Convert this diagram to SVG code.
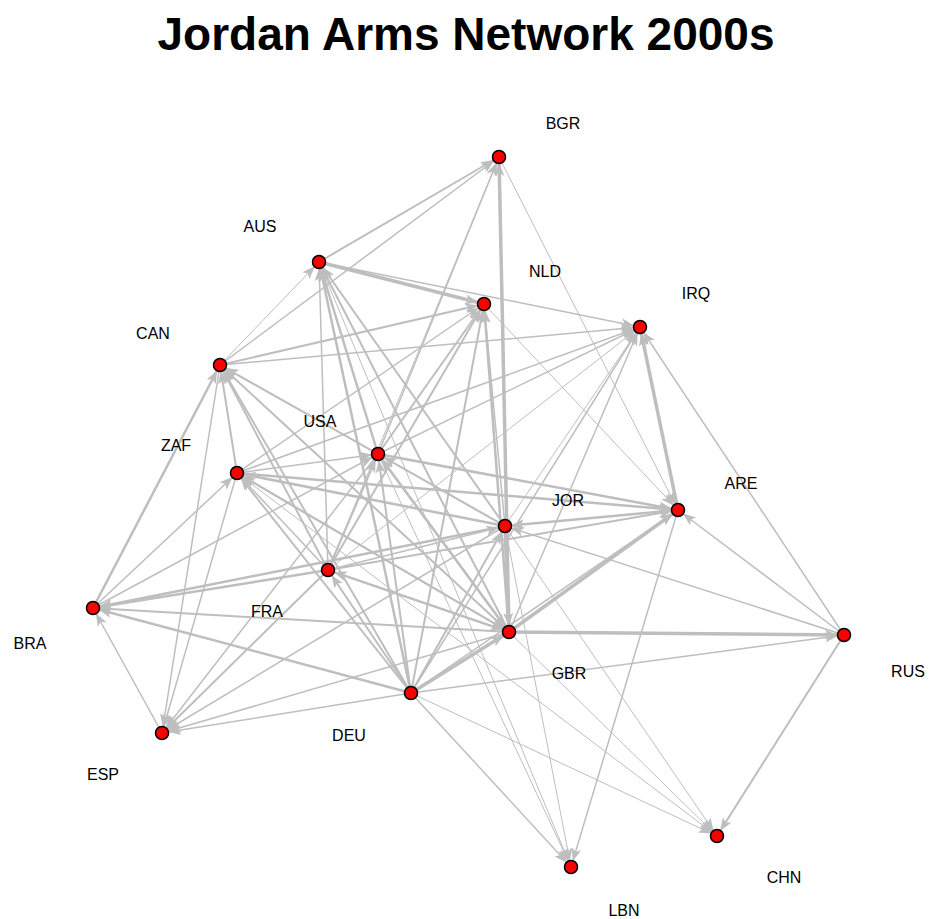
<svg xmlns="http://www.w3.org/2000/svg" width="931" height="919" viewBox="0 0 931 919">
<style>
.e{stroke:#bebebe;fill:none;marker-end:url(#ar)}
.a{stroke-width:1}
.b{stroke-width:1.5}
.c{stroke-width:2}
.d{stroke-width:2.5}
.f{stroke-width:3.5}
.n{fill:#ff0000;stroke:#000;stroke-width:1.5}
.l{font-family:"Liberation Sans",Arial,sans-serif;font-size:16px;fill:#000;text-anchor:middle}
.t{font-family:"Liberation Sans",Arial,sans-serif;font-size:46px;font-weight:bold;fill:#000;text-anchor:middle}
</style>
<defs>
<marker id="ar" markerUnits="userSpaceOnUse" markerWidth="14" markerHeight="10" refX="19" refY="5" orient="auto" overflow="visible">
<path d="M0,0 L13,5 L0,10 L3,5 z" fill="#bebebe"/>
</marker>
</defs>
<rect width="931" height="919" fill="#fff"/>
<text class="t" x="466" y="50">Jordan Arms Network 2000s</text>
<g id="edges">
<line class="e c" x1="319" y1="262" x2="499" y2="157"/>
<line class="e b" x1="220" y1="365" x2="499" y2="157"/>
<line class="e b" x1="378" y1="454" x2="499" y2="157"/>
<line class="e a" x1="328" y1="570" x2="499" y2="157"/>
<line class="e f" x1="509" y1="632" x2="499" y2="157"/>
<line class="e a" x1="499" y1="157" x2="678" y2="510"/>
<line class="e a" x1="220" y1="365" x2="319" y2="262"/>
<line class="e d" x1="378" y1="454" x2="319" y2="262"/>
<line class="e d" x1="411" y1="693" x2="319" y2="262"/>
<line class="e b" x1="328" y1="570" x2="319" y2="262"/>
<line class="e c" x1="509" y1="632" x2="319" y2="262"/>
<line class="e c" x1="505" y1="526" x2="319" y2="262"/>
<line class="e f" x1="319" y1="262" x2="484" y2="304"/>
<line class="e b" x1="319" y1="262" x2="640" y2="327"/>
<line class="e c" x1="220" y1="365" x2="484" y2="304"/>
<line class="e c" x1="378" y1="454" x2="484" y2="304"/>
<line class="e c" x1="328" y1="570" x2="484" y2="304"/>
<line class="e c" x1="411" y1="693" x2="484" y2="304"/>
<line class="e d" x1="509" y1="632" x2="484" y2="304"/>
<line class="e b" x1="237" y1="473" x2="484" y2="304"/>
<line class="e b" x1="505" y1="526" x2="484" y2="304"/>
<line class="e a" x1="484" y1="304" x2="678" y2="510"/>
<line class="e f" x1="678" y1="510" x2="640" y2="327"/>
<line class="e b" x1="844" y1="635" x2="640" y2="327"/>
<line class="e b" x1="220" y1="365" x2="640" y2="327"/>
<line class="e b" x1="378" y1="454" x2="640" y2="327"/>
<line class="e b" x1="237" y1="473" x2="640" y2="327"/>
<line class="e a" x1="328" y1="570" x2="640" y2="327"/>
<line class="e b" x1="411" y1="693" x2="640" y2="327"/>
<line class="e b" x1="509" y1="632" x2="640" y2="327"/>
<line class="e a" x1="505" y1="526" x2="640" y2="327"/>
<line class="e c" x1="237" y1="473" x2="220" y2="365"/>
<line class="e c" x1="378" y1="454" x2="220" y2="365"/>
<line class="e d" x1="93" y1="608" x2="220" y2="365"/>
<line class="e c" x1="328" y1="570" x2="220" y2="365"/>
<line class="e c" x1="411" y1="693" x2="220" y2="365"/>
<line class="e c" x1="509" y1="632" x2="220" y2="365"/>
<line class="e b" x1="505" y1="526" x2="220" y2="365"/>
<line class="e b" x1="220" y1="365" x2="162" y2="733"/>
<line class="e c" x1="505" y1="526" x2="378" y2="454"/>
<line class="e c" x1="509" y1="632" x2="378" y2="454"/>
<line class="e c" x1="411" y1="693" x2="378" y2="454"/>
<line class="e c" x1="328" y1="570" x2="378" y2="454"/>
<line class="e b" x1="237" y1="473" x2="378" y2="454"/>
<line class="e b" x1="93" y1="608" x2="378" y2="454"/>
<line class="e b" x1="378" y1="454" x2="162" y2="733"/>
<line class="e d" x1="378" y1="454" x2="678" y2="510"/>
<line class="e a" x1="319" y1="262" x2="571" y2="867"/>
<line class="e d" x1="505" y1="526" x2="237" y2="473"/>
<line class="e c" x1="509" y1="632" x2="237" y2="473"/>
<line class="e c" x1="411" y1="693" x2="237" y2="473"/>
<line class="e b" x1="328" y1="570" x2="237" y2="473"/>
<line class="e b" x1="93" y1="608" x2="237" y2="473"/>
<line class="e b" x1="237" y1="473" x2="162" y2="733"/>
<line class="e d" x1="237" y1="473" x2="678" y2="510"/>
<line class="e a" x1="237" y1="473" x2="717" y2="836"/>
<line class="e d" x1="678" y1="510" x2="505" y2="526"/>
<line class="e b" x1="844" y1="635" x2="505" y2="526"/>
<line class="e b" x1="328" y1="570" x2="505" y2="526"/>
<line class="e b" x1="505" y1="526" x2="162" y2="733"/>
<line class="e c" x1="411" y1="693" x2="505" y2="526"/>
<line class="e f" x1="505" y1="526" x2="509" y2="632"/>
<line class="e a" x1="505" y1="526" x2="571" y2="867"/>
<line class="e a" x1="505" y1="526" x2="717" y2="836"/>
<line class="e c" x1="328" y1="570" x2="678" y2="510"/>
<line class="e f" x1="509" y1="632" x2="678" y2="510"/>
<line class="e b" x1="411" y1="693" x2="678" y2="510"/>
<line class="e b" x1="844" y1="635" x2="678" y2="510"/>
<line class="e b" x1="678" y1="510" x2="571" y2="867"/>
<line class="e c" x1="509" y1="632" x2="328" y2="570"/>
<line class="e c" x1="411" y1="693" x2="328" y2="570"/>
<line class="e c" x1="328" y1="570" x2="162" y2="733"/>
<line class="e d" x1="328" y1="570" x2="93" y2="608"/>
<line class="e d" x1="505" y1="526" x2="93" y2="608"/>
<line class="e c" x1="509" y1="632" x2="93" y2="608"/>
<line class="e d" x1="411" y1="693" x2="93" y2="608"/>
<line class="e b" x1="162" y1="733" x2="93" y2="608"/>
<line class="e b" x1="509" y1="632" x2="162" y2="733"/>
<line class="e b" x1="411" y1="693" x2="162" y2="733"/>
<line class="e f" x1="509" y1="632" x2="844" y2="635"/>
<line class="e b" x1="411" y1="693" x2="844" y2="635"/>
<line class="e c" x1="844" y1="635" x2="717" y2="836"/>
<line class="e f" x1="411" y1="693" x2="509" y2="632"/>
<line class="e c" x1="328" y1="570" x2="509" y2="632"/>
<line class="e d" x1="378" y1="454" x2="509" y2="632"/>
<line class="e c" x1="237" y1="473" x2="509" y2="632"/>
<line class="e b" x1="411" y1="693" x2="571" y2="867"/>
<line class="e a" x1="411" y1="693" x2="717" y2="836"/>
<line class="e a" x1="509" y1="632" x2="717" y2="836"/>
<line class="e a" x1="378" y1="454" x2="571" y2="867"/>
</g>
<g id="BGR"><circle class="n" cx="499" cy="157" r="6.5"/><text class="l" x="563" y="129">BGR</text></g>
<g id="AUS"><circle class="n" cx="319" cy="262" r="6.5"/><text class="l" x="260" y="232">AUS</text></g>
<g id="NLD"><circle class="n" cx="484" cy="304" r="6.5"/><text class="l" x="545" y="277">NLD</text></g>
<g id="IRQ"><circle class="n" cx="640" cy="327" r="6.5"/><text class="l" x="696" y="299">IRQ</text></g>
<g id="CAN"><circle class="n" cx="220" cy="365" r="6.5"/><text class="l" x="153" y="339">CAN</text></g>
<g id="USA"><circle class="n" cx="378" cy="454" r="6.5"/><text class="l" x="320" y="427">USA</text></g>
<g id="ZAF"><circle class="n" cx="237" cy="473" r="6.5"/><text class="l" x="176" y="451">ZAF</text></g>
<g id="JOR"><circle class="n" cx="505" cy="526" r="6.5"/><text class="l" x="568" y="506">JOR</text></g>
<g id="ARE"><circle class="n" cx="678" cy="510" r="6.5"/><text class="l" x="741" y="489">ARE</text></g>
<g id="FRA"><circle class="n" cx="328" cy="570" r="6.5"/><text class="l" x="267" y="617">FRA</text></g>
<g id="BRA"><circle class="n" cx="93" cy="608" r="6.5"/><text class="l" x="30" y="649">BRA</text></g>
<g id="GBR"><circle class="n" cx="509" cy="632" r="6.5"/><text class="l" x="569" y="679">GBR</text></g>
<g id="RUS"><circle class="n" cx="844" cy="635" r="6.5"/><text class="l" x="908" y="677">RUS</text></g>
<g id="DEU"><circle class="n" cx="411" cy="693" r="6.5"/><text class="l" x="349" y="741">DEU</text></g>
<g id="ESP"><circle class="n" cx="162" cy="733" r="6.5"/><text class="l" x="103" y="780">ESP</text></g>
<g id="CHN"><circle class="n" cx="717" cy="836" r="6.5"/><text class="l" x="784" y="883">CHN</text></g>
<g id="LBN"><circle class="n" cx="571" cy="867" r="6.5"/><text class="l" x="624" y="916">LBN</text></g>
</svg>
